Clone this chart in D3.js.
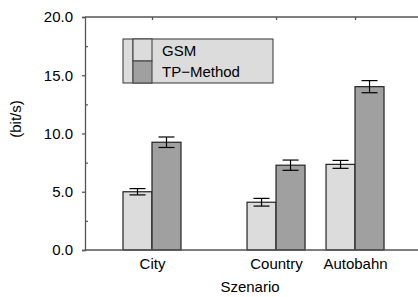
<!DOCTYPE html>
<html><head><meta charset="utf-8">
<script src="https://cdn.jsdelivr.net/npm/d3@7"></script>
<style>html,body{margin:0;padding:0;background:#fff}svg{display:block}text{font-family:"Liberation Sans",Arial,sans-serif;fill:#000}</style>
</head><body>
<script>
const categories = ["City", "Country", "Autobahn"];
const categoryPos = [1, 2.57, 3.57];
const seriesNames = ["GSM", "TP\u2212Method"];
const gsmValues = [5.0, 4.1, 7.35];
const gsmErrors = [0.27, 0.33, 0.34];
const tpValues = [9.25, 7.28, 14.02];
const tpErrors = [0.45, 0.44, 0.52];
const yTicks = [0, 5, 10, 15, 20];
const yMinorTicks = [2.5, 7.5, 12.5, 17.5];

const W = 418, H = 297;
const svg = d3.select("body").append("svg").attr("width", W).attr("height", H);
const x = d3.scaleLinear().domain([0.152, 4.367]).range([85, 418]);
const y = d3.scaleLinear().domain([0, 20]).range([250, 17]);
const bw = x(1.367) - x(1);
const fills = ["#dcdcdc", "#a0a0a0"];
const axisCol = "#555";
const fs = "15px";

// bars
const series = [
  {vals: gsmValues, errs: gsmErrors, off: -1, fill: fills[0]},
  {vals: tpValues, errs: tpErrors, off: 0, fill: fills[1]}
];
series.forEach(s => {
  const g = svg.append("g");
  categoryPos.forEach((p, i) => {
    const x0 = x(p) + s.off * bw;
    g.append("rect").attr("x", x0).attr("y", y(s.vals[i]))
      .attr("width", bw).attr("height", y(0) - y(s.vals[i]))
      .attr("fill", s.fill).attr("stroke", "#222").attr("stroke-width", 1.2);
    const cx = x0 + bw / 2, cw = 8;
    const hi = y(s.vals[i] + s.errs[i]), lo = y(s.vals[i] - s.errs[i]);
    g.append("line").attr("x1", cx).attr("x2", cx).attr("y1", hi).attr("y2", lo).attr("stroke", "#000").attr("stroke-width", 1.2);
    g.append("line").attr("x1", cx - cw).attr("x2", cx + cw).attr("y1", hi).attr("y2", hi).attr("stroke", "#000").attr("stroke-width", 1.2);
    g.append("line").attr("x1", cx - cw).attr("x2", cx + cw).attr("y1", lo).attr("y2", lo).attr("stroke", "#000").attr("stroke-width", 1.2);
  });
});

// frame lines
svg.append("line").attr("x1", x.range()[0]).attr("x2", W).attr("y1", y(20)).attr("y2", y(20)).attr("stroke", axisCol).attr("stroke-width", 1.3);
svg.append("line").attr("x1", x.range()[0]).attr("x2", W).attr("y1", y(0)).attr("y2", y(0)).attr("stroke", axisCol).attr("stroke-width", 1.3);

// y axis
const yAxis = d3.axisLeft(y).tickValues(yTicks).tickFormat(d3.format(".1f")).tickSize(3).tickPadding(9);
const ya = svg.append("g").attr("transform", `translate(${x.range()[0]},0)`).call(yAxis);
ya.select(".domain").attr("stroke", axisCol).attr("stroke-width", 1.3);
ya.selectAll(".tick line").attr("stroke", axisCol).attr("stroke-width", 1.3);
ya.selectAll("text").style("font-size", fs).attr("fill", "#000");
const yMinor = d3.axisRight(y).tickValues(yMinorTicks).tickSize(3).tickFormat("");
const ym = svg.append("g").attr("transform", `translate(${x.range()[0]},0)`).call(yMinor);
ym.select(".domain").remove();
ym.selectAll(".tick line").attr("stroke", axisCol).attr("stroke-width", 1.2);

// top ticks at categories
const xTop = d3.axisBottom(x).tickValues(categoryPos).tickSize(3).tickFormat("");
const xt = svg.append("g").attr("transform", `translate(0,${y(20)})`).call(xTop);
xt.select(".domain").remove();
xt.selectAll(".tick line").attr("stroke", axisCol).attr("stroke-width", 1.3);

// x labels
const xBottom = d3.axisBottom(x).tickValues(categoryPos).tickSize(0).tickPadding(8).tickFormat((d, i) => categories[i]);
const xb = svg.append("g").attr("transform", `translate(0,${y(0)})`).call(xBottom);
xb.select(".domain").remove();
xb.selectAll("text").style("font-size", fs).attr("fill", "#000");

// axis titles
svg.append("text").attr("x", 250).attr("y", 292).attr("text-anchor", "middle").style("font-size", fs).text("Szenario");
svg.append("text").attr("transform", "translate(21,119) rotate(-90)").attr("text-anchor", "middle").style("font-size", fs).text("(bit/s)");

// legend
const lg = svg.append("g");
lg.append("rect").attr("x", 123).attr("y", 39).attr("width", 150).attr("height", 44).attr("fill", "#dcdcdc").attr("stroke", "#444").attr("stroke-width", 1.1);
lg.append("line").attr("x1", 133).attr("x2", 133).attr("y1", 39).attr("y2", 83).attr("stroke", "#444").attr("stroke-width", 1.1);
seriesNames.forEach((n, i) => {
  lg.append("rect").attr("x", 133).attr("y", 39 + i * 22).attr("width", 19).attr("height", 22)
    .attr("fill", fills[i]).attr("stroke", "#444").attr("stroke-width", 1.1);
  lg.append("text").attr("x", 162).attr("y", 56 + i * 21).style("font-size", fs).text(n);
});
</script>
</body></html>
